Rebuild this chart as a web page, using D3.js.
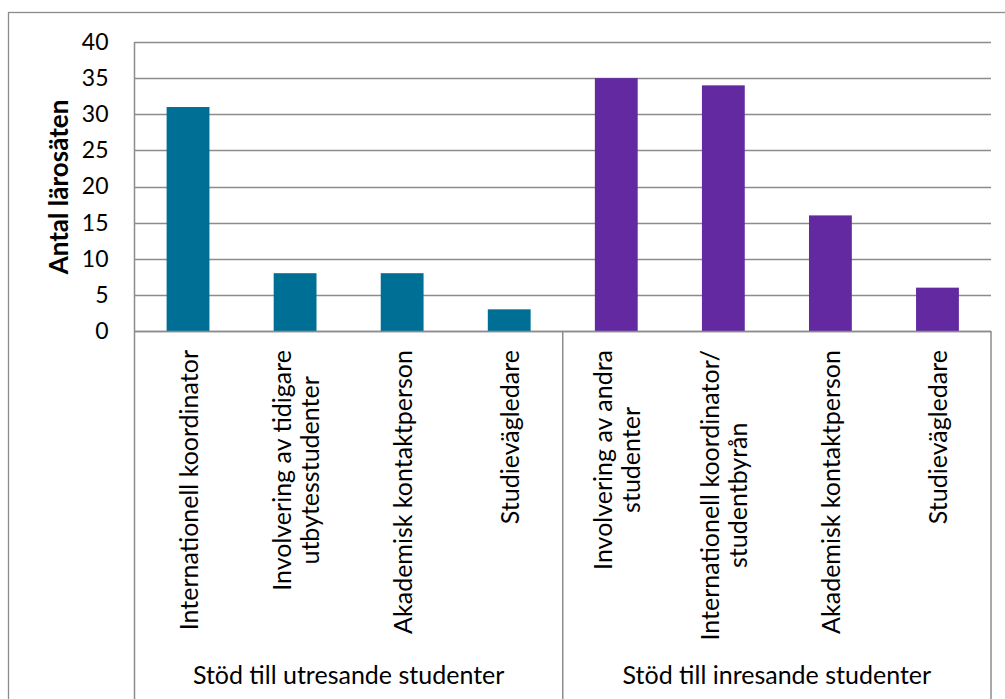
<!DOCTYPE html>
<html>
<head>
<meta charset="utf-8">
<script src="https://cdn.jsdelivr.net/npm/d3@7"></script>
<style>
  html, body { margin: 0; padding: 0; background: #fff; }
  svg { display: block; }
  text { font-family: Lato, "Open Sans", sans-serif; fill: #000; }
</style>
</head>
<body>
<svg id="chart" width="1005" height="699"></svg>
<script>
// Survey counts: number of institutions offering each kind of support
const groups = ["Stöd till utresande studenter", "Stöd till inresande studenter"];
const categories = [
  ["Internationell koordinator"],
  ["Involvering av tidigare", "utbytesstudenter"],
  ["Akademisk kontaktperson"],
  ["Studievägledare"],
  ["Involvering av andra", "studenter"],
  ["Internationell koordinator/", "studentbyrån"],
  ["Akademisk kontaktperson"],
  ["Studievägledare"]
];
const categoryGroup = [0, 0, 0, 0, 1, 1, 1, 1];
const values = [31, 8, 8, 3, 35, 34, 16, 6];
const yTicks = [0, 5, 10, 15, 20, 25, 30, 35, 40];
const yTitle = "Antal lärosäten";

const groupColors = ["#006f96", "#6229a0"];
const gray = "#8c8c8c";

const svg = d3.select("#chart");
const plot = { left: 134.5, right: 991, top: 42, bottom: 331 };

const x = d3.scaleBand()
  .domain(d3.range(categories.length))
  .range([plot.left, plot.right])
  .paddingInner(0.6)
  .paddingOuter(0.3);

const y = d3.scaleLinear()
  .domain([0, 40])
  .range([plot.bottom, plot.top]);

// chart frame (extends past the visible window on right and bottom)
svg.append("rect")
  .attr("x", 8.5).attr("y", 12.5)
  .attr("width", 1100).attr("height", 800)
  .attr("fill", "none").attr("stroke", gray).attr("stroke-width", 1.3);

// horizontal gridlines
svg.append("g").selectAll("line").data(yTicks).join("line")
  .attr("x1", plot.left).attr("x2", plot.right)
  .attr("y1", d => Math.round(y(d)) + 0.5).attr("y2", d => Math.round(y(d)) + 0.5)
  .attr("stroke", gray).attr("stroke-width", 1.5);

// y axis labels
const yAxis = d3.axisLeft(y).tickValues(yTicks).tickSize(0).tickPadding(26);
const gy = svg.append("g").attr("transform", `translate(${plot.left},0)`).call(yAxis);
gy.select(".domain").remove();
gy.selectAll("text").attr("font-size", 23).attr("font-family", "Lato, sans-serif");

// bars
svg.append("g").selectAll("rect").data(values).join("rect")
  .attr("x", (d, i) => x(i))
  .attr("width", x.bandwidth())
  .attr("y", d => y(d))
  .attr("height", d => y(0) - y(d))
  .attr("fill", (d, i) => groupColors[categoryGroup[i]]);

// vertical axis line and group separators
const step = x.step();
const bounds = [0, 4, 8].map(k => plot.left + k * step);
svg.append("line")
  .attr("x1", plot.left).attr("x2", plot.left)
  .attr("y1", plot.top).attr("y2", 699)
  .attr("stroke", gray).attr("stroke-width", 1.5);
svg.append("g").selectAll("line").data(bounds.slice(1)).join("line")
  .attr("x1", d => d).attr("x2", d => d)
  .attr("y1", plot.bottom).attr("y2", 699)
  .attr("stroke", gray).attr("stroke-width", 1.5);
// redraw the zero line on top of the bars
svg.append("line")
  .attr("x1", plot.left).attr("x2", plot.right)
  .attr("y1", Math.round(y(0)) + 0.5).attr("y2", Math.round(y(0)) + 0.5)
  .attr("stroke", gray).attr("stroke-width", 1.5);

// rotated category labels, lines centered on each other, block top-aligned under the axis
const labelSize = 25, lineH = 28, labelTop = 350;
categories.forEach((lines, i) => {
  const cx = x(i) + x.bandwidth() / 2;
  const g = svg.append("g");
  const texts = lines.map((ln, j) => g.append("text")
    .attr("font-size", labelSize)
    .attr("text-anchor", "middle")
    .attr("dominant-baseline", "central")
    .text(ln));
  const maxLen = d3.max(texts, t => t.node().getComputedTextLength());
  const cy = labelTop + maxLen / 2;
  texts.forEach((t, j) => {
    const off = (j - (lines.length - 1) / 2) * lineH;
    t.attr("transform", `translate(${cx + off},${cy}) rotate(-90)`);
  });
});

// group labels
groups.forEach((gname, k) => {
  svg.append("text")
    .attr("x", (bounds[k] + bounds[k + 1]) / 2)
    .attr("y", 684)
    .attr("text-anchor", "middle")
    .attr("font-size", 25)
    .text(gname);
});

// y axis title
svg.append("text")
  .attr("transform", `translate(68,187) rotate(-90)`)
  .attr("text-anchor", "middle")
  .attr("font-size", 26)
  .attr("font-weight", "bold")
  .text(yTitle);
</script>
</body>
</html>
